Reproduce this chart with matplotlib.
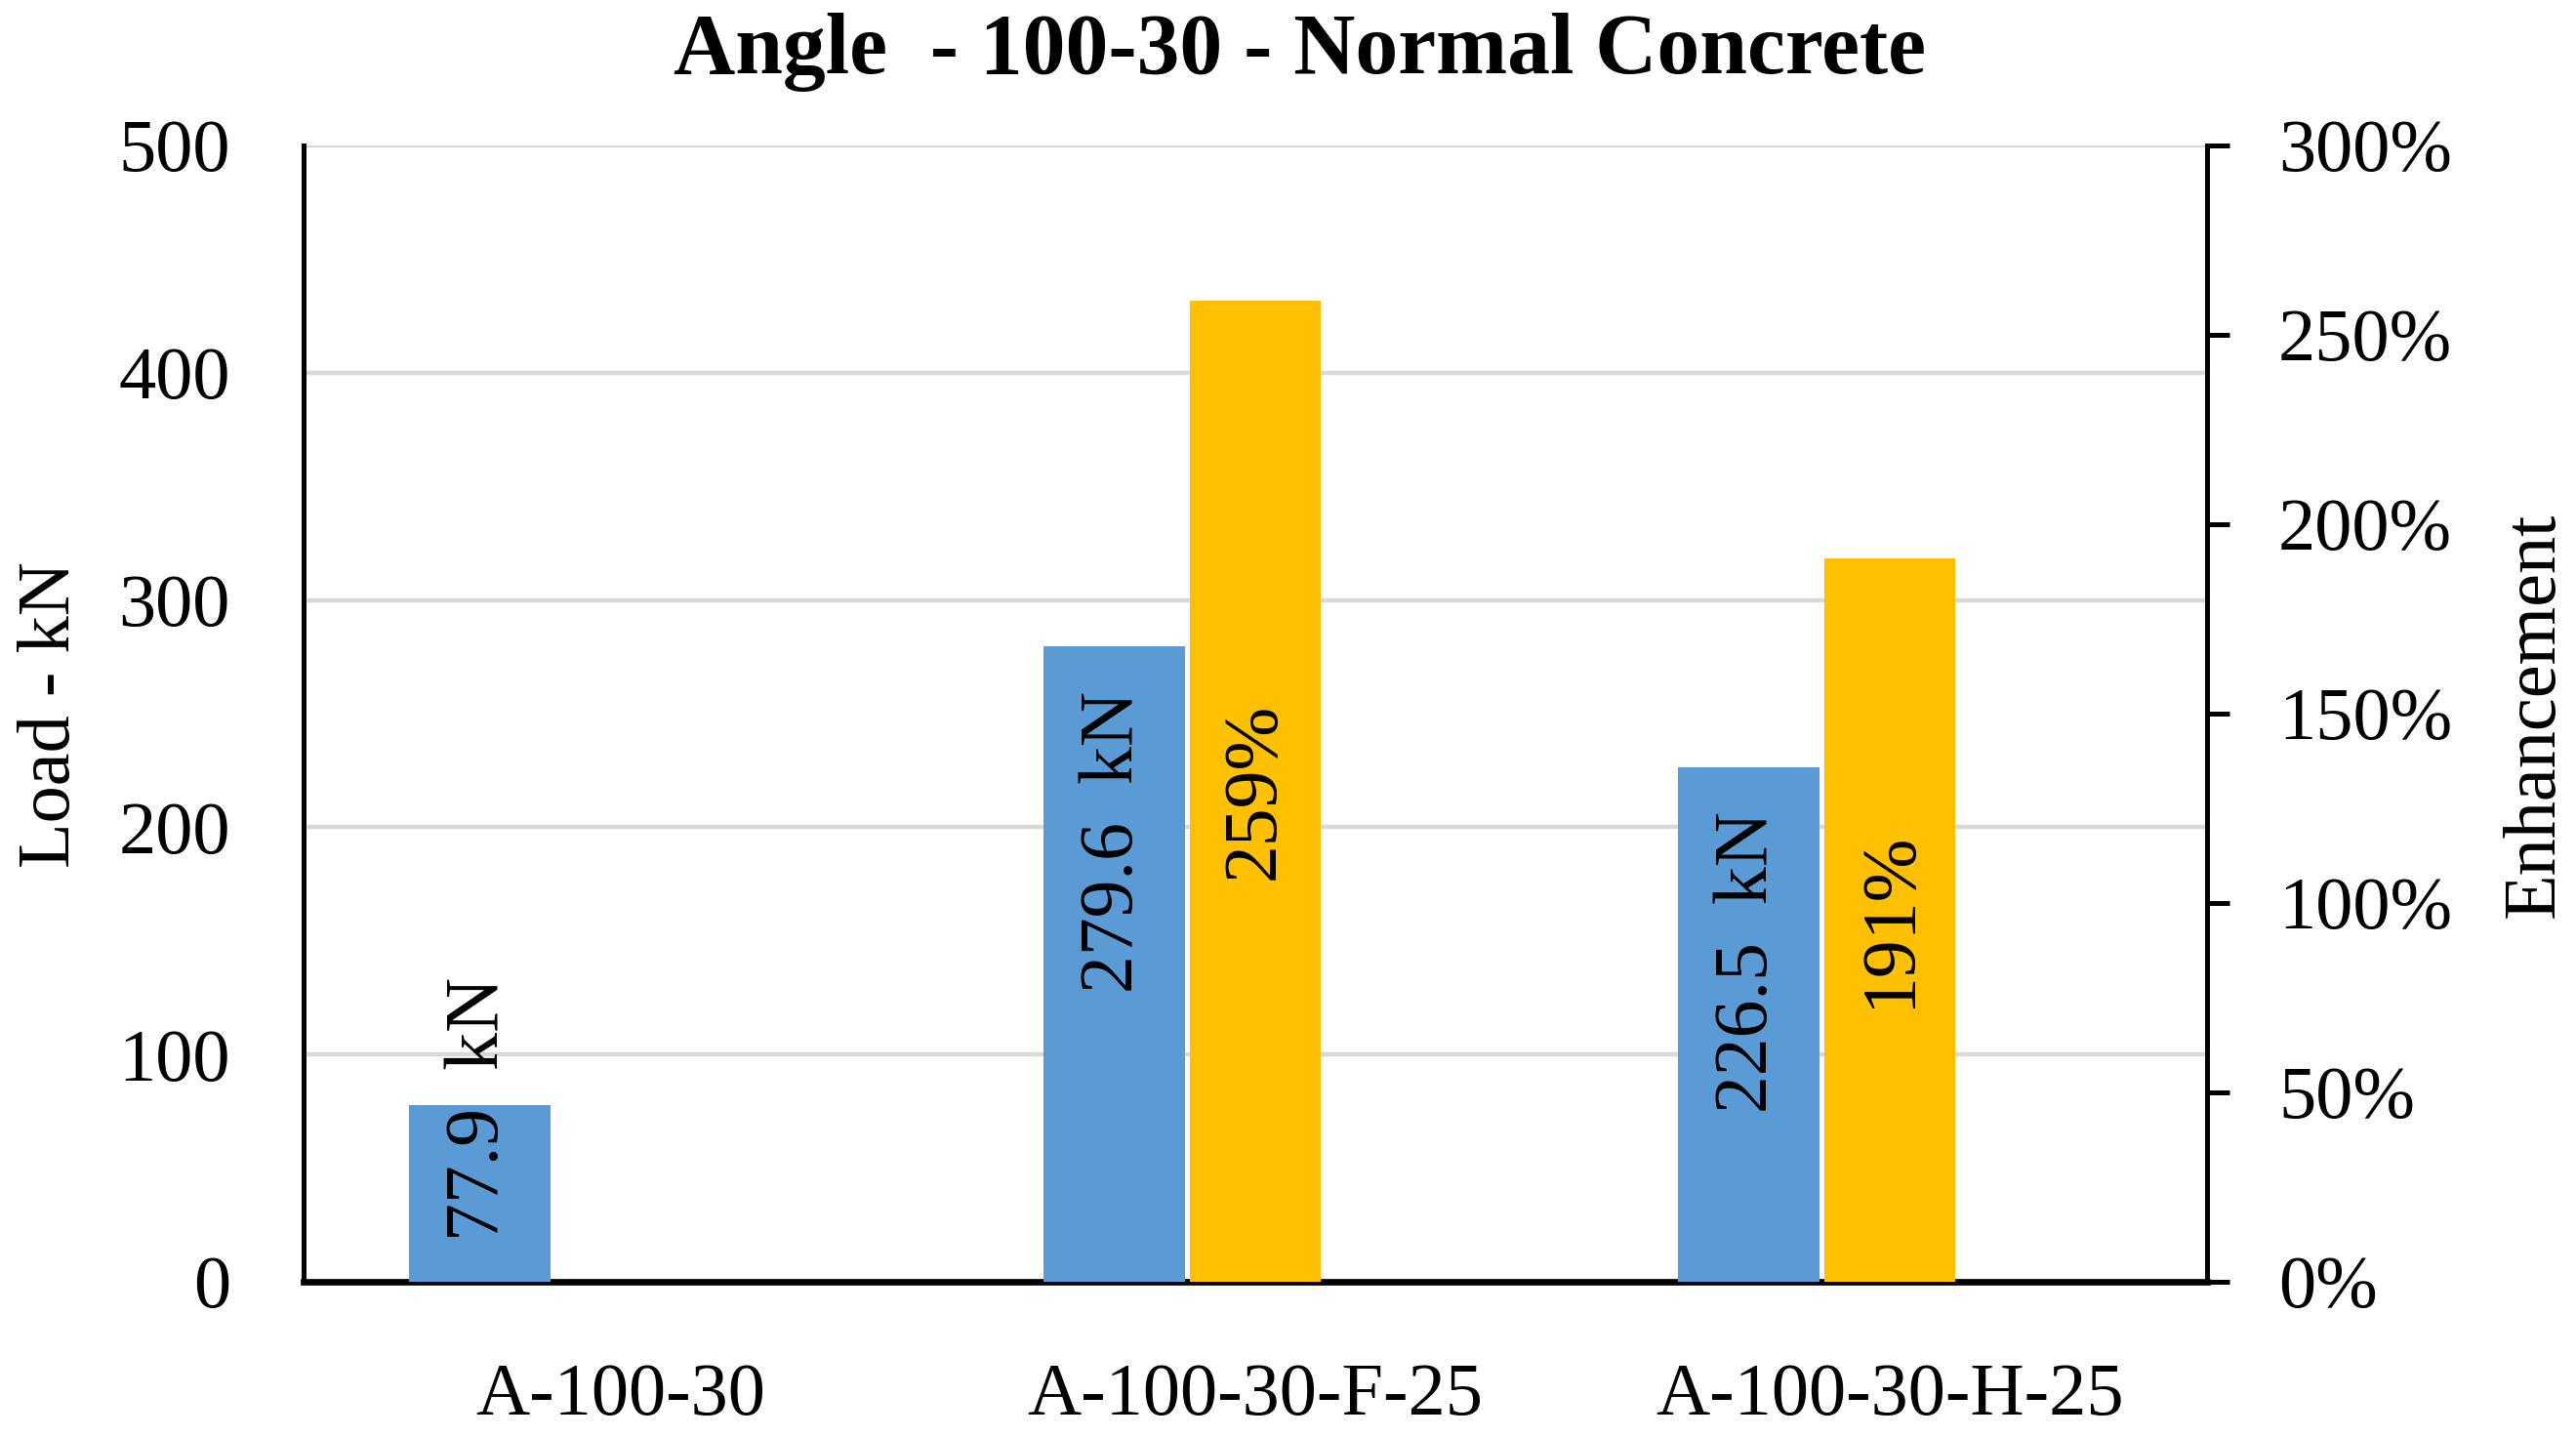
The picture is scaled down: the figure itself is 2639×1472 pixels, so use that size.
import matplotlib
matplotlib.use("Agg")
import matplotlib.pyplot as plt
import numpy as np

categories = ["A-100-30", "A-100-30-F-25", "A-100-30-H-25"]
load_kN = [77.9, 279.6, 226.5]
enhancement_pct = [None, 259, 191]
left_ticks = [0, 100, 200, 300, 400, 500]
right_ticks = [0, 50, 100, 150, 200, 250, 300]

FONT = "Liberation Serif"
plt.rcParams['font.family'] = [FONT, 'DejaVu Serif']

W, H, DPI = 2639, 1472, 200
fig = plt.figure(figsize=(W / DPI, H / DPI), dpi=DPI)
L, R, T, B = 311, 2261, 149, 1313
ax = fig.add_axes([L / W, 1 - B / H, (R - L) / W, (B - T) / H])
ax2 = ax.twinx()

blue = "#5B9BD5"
yellow = "#FFC000"
x = np.arange(len(categories))
bw = 0.223
yw = 0.206

# primary bars (load)
ax.bar(x - bw, load_kN, width=bw, color=blue, zorder=3)
ax.set_xlim(-0.5, len(categories) - 0.5)
ax.set_ylim(0, 500)
ax.set_yticks(left_ticks)
ax.set_yticklabels([str(t) for t in left_ticks])
ax.grid(axis='y', color='#D9D9D9', linewidth=1.6, zorder=0)
ax.set_axisbelow(True)

# secondary bars (enhancement)
ex = [xi for xi, e in zip(x, enhancement_pct) if e is not None]
ev = [e for e in enhancement_pct if e is not None]
ax2.bar(ex, ev, width=yw, color=yellow, zorder=3)
ax2.set_ylim(0, 300)
ax2.set_yticks(right_ticks)
ax2.set_yticklabels([f"{t}%" for t in right_ticks])

ax.spines["top"].set_visible(False)
ax.spines["right"].set_visible(False)
ax2.spines["left"].set_visible(False)
ax2.spines["top"].set_visible(False)
ax2.spines["bottom"].set_visible(False)
ax.spines["left"].set_linewidth(1.8)
ax.spines["bottom"].set_linewidth(2.4)
ax2.spines["right"].set_linewidth(1.8)

fs = 27.5
ax.tick_params(axis='y', length=0, pad=27, labelsize=fs)
ax.tick_params(axis='x', length=0, pad=30, labelsize=fs)
ax2.tick_params(axis='y', length=8.3, width=1.8, pad=18, labelsize=fs, direction='out')
ax.set_xticks(x)
ax.set_xticklabels(categories)

# axis titles
fig.text(52 / W, 1 - 732 / H, "Load - kN", rotation=90, ha='center', va='center', fontsize=fs)
fig.text(2597 / W, 1 - 732 / H, "Enhancement", rotation=90, ha='center', va='center', fontsize=fs)

# data labels
lfs = 28
for xi, v in zip(x, load_kN):
    txt = f"{v:.1f}  kN"
    if v > 150:
        ax.annotate(txt, (xi - bw, v), xytext=(0, -16.5), textcoords='offset points',
                    rotation=90, ha='center', va='top', fontsize=lfs, zorder=5)
    else:
        ax.annotate(txt, (xi - bw, 0), xytext=(0, 15), textcoords='offset points',
                    rotation=90, ha='center', va='bottom', fontsize=lfs, zorder=5)
for xi, e in zip(ex, ev):
    ax2.text(xi, e / 2, f"{e:.0f}%", rotation=90, ha='center', va='center',
             fontsize=lfs, zorder=5)

fig.text(1332 / W, 1 - 54 / H, "Angle  - 100-30 - Normal Concrete", ha='center', va='center',
         fontsize=31.5, fontweight='bold')

fig.savefig("out.png", dpi=DPI, facecolor='white')
